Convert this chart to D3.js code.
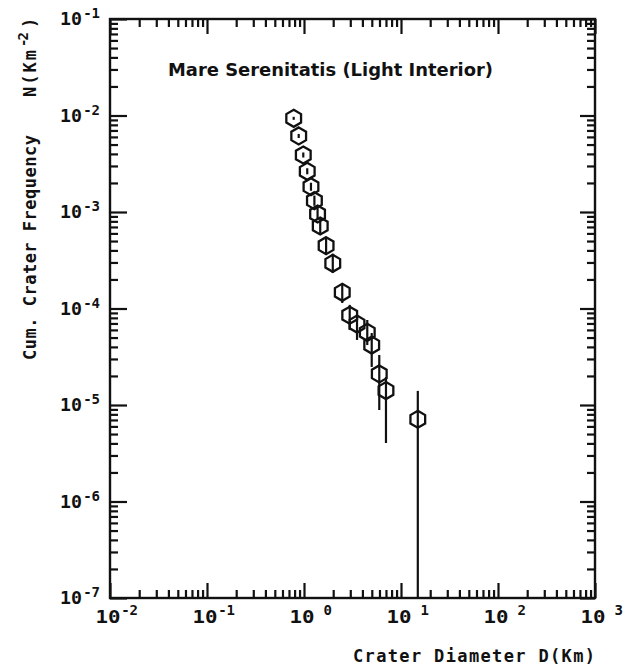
<!DOCTYPE html>
<html>
<head>
<meta charset="utf-8">
<script src="https://cdn.jsdelivr.net/npm/d3@7"></script>
<style>
  html, body { margin: 0; padding: 0; background: #fff; }
  svg { display: block; }
  .mono { font-family: "DejaVu Sans Mono", "Liberation Mono", monospace; font-weight: bold; fill: #111; }
</style>
</head>
<body>
<script>
// Cumulative crater frequency, Mare Serenitatis (light interior)
const diameters = [0.783, 0.882, 0.983, 1.08, 1.18, 1.28, 1.38, 1.47, 1.69, 1.98,
                   2.48, 2.96, 3.52, 4.49, 4.99, 5.97, 7.00, 14.9];
const frequencies = [9.35e-3, 6.14e-3, 3.90e-3, 2.64e-3, 1.83e-3, 1.31e-3, 9.53e-4, 7.16e-4, 4.48e-4, 2.94e-4,
                     1.47e-4, 8.51e-5, 6.90e-5, 5.66e-5, 4.18e-5, 2.10e-5, 1.41e-5, 7.11e-6];
const errUpper = [9.69e-3, 6.44e-3, 4.14e-3, 2.84e-3, 2.01e-3, 1.48e-3, 1.10e-3, 8.46e-4, 5.42e-4, 3.69e-4,
                  1.75e-4, 1.09e-4, 8.22e-5, 7.60e-5, 5.57e-5, 3.30e-5, 1.95e-5, 1.40e-5];
const errLower = [9.02e-3, 5.85e-3, 3.67e-3, 2.46e-3, 1.66e-3, 1.16e-3, 8.26e-4, 6.06e-4, 3.70e-4, 2.34e-4,
                  1.14e-4, 5.98e-5, 4.72e-5, 4.18e-5, 2.48e-5, 8.87e-6, 4.04e-6, 1e-7];

const xDecades = [-2, -1, 0, 1, 2, 3];
const yDecades = [-1, -2, -3, -4, -5, -6, -7];

const titleText = "Mare Serenitatis (Light Interior)";
const xTitle = "Crater Diameter D(Km)";
const yTitle = "Cum. Crater Frequency";

const W = 626, H = 669;
const svg = d3.select("body").append("svg").attr("width", W).attr("height", H);

const x = d3.scaleLog().domain([1e-2, 1e3]).range([110, 595]);
const y = d3.scaleLog().domain([1e-7, 1e-1]).range([598, 19]);

// tick positions: majors at each decade, minors at 2..9
function logTicks(lo, hi) {
  const major = [], minor = [];
  for (let e = lo; e <= hi; e++) {
    major.push(Math.pow(10, e));
    if (e < hi) for (let m = 2; m <= 9; m++) minor.push(m * Math.pow(10, e));
  }
  return { major, minor };
}
const xt = logTicks(-2, 3), yt = logTicks(-7, -1);

function styleAxis(g) {
  g.select(".domain").remove();
  g.selectAll(".tick line").attr("stroke", "#111").attr("stroke-width", 2.2);
  g.selectAll(".tick text").remove();
}

const axes = svg.append("g");
[["major", 15], ["minor", 8]].forEach(([k, len]) => {
  axes.append("g").attr("transform", `translate(0,${y.range()[0]})`)
    .call(d3.axisBottom(x).tickValues(xt[k]).tickSize(-len).tickFormat("")).call(styleAxis);
  axes.append("g").attr("transform", `translate(0,${y.range()[1]})`)
    .call(d3.axisTop(x).tickValues(xt[k]).tickSize(-len).tickFormat("")).call(styleAxis);
  axes.append("g").attr("transform", `translate(${x.range()[0]},0)`)
    .call(d3.axisLeft(y).tickValues(yt[k]).tickSize(-(k === "major" ? 17 : 8)).tickFormat("")).call(styleAxis);
  axes.append("g").attr("transform", `translate(${x.range()[1]},0)`)
    .call(d3.axisRight(y).tickValues(yt[k]).tickSize(-len).tickFormat("")).call(styleAxis);
});

// frame
svg.append("rect")
  .attr("x", x.range()[0]).attr("y", y.range()[1])
  .attr("width", x.range()[1] - x.range()[0]).attr("height", y.range()[0] - y.range()[1])
  .attr("fill", "none").attr("stroke", "#111").attr("stroke-width", 2.4);

// x tick labels
xDecades.forEach(e => {
  const px = x(Math.pow(10, e));
  svg.append("text").attr("class", "mono")
    .attr("x", px - 2).attr("y", 623).attr("text-anchor", "middle")
    .attr("font-size", 17).attr("textLength", 25).attr("lengthAdjust", "spacingAndGlyphs")
    .text("10");
  svg.append("text").attr("class", "mono")
    .attr("x", px + 28).attr("y", 615).attr("text-anchor", "end")
    .attr("font-size", 14)
    .text(e < 0 ? "-" + (-e) : String(e));
});

// y tick labels
yDecades.forEach(e => {
  const py = y(Math.pow(10, e));
  svg.append("text").attr("class", "mono")
    .attr("x", 60).attr("y", py + 6)
    .attr("font-size", 17).attr("textLength", 22).attr("lengthAdjust", "spacingAndGlyphs")
    .text("10");
  svg.append("text").attr("class", "mono")
    .attr("x", 100).attr("y", py - 1).attr("text-anchor", "end")
    .attr("font-size", 14)
    .text("-" + (-e));
});

// title inside the frame
svg.append("text")
  .attr("x", 168).attr("y", 76)
  .attr("font-family", "'DejaVu Sans', sans-serif").attr("font-weight", "bold")
  .attr("font-size", 18).attr("fill", "#111")
  .attr("textLength", 325).attr("lengthAdjust", "spacingAndGlyphs")
  .text(titleText);

// x axis title
svg.append("text").attr("class", "mono")
  .attr("x", 353).attr("y", 662).attr("font-size", 17)
  .attr("textLength", 242).attr("lengthAdjust", "spacing")
  .text(xTitle);

// y axis title (rotated)
const yg = svg.append("g").attr("transform", "translate(36,0) rotate(-90)");
yg.append("text").attr("class", "mono")
  .attr("x", -360).attr("y", 0).attr("font-size", 17)
  .attr("textLength", 225).attr("lengthAdjust", "spacing")
  .text(yTitle);
yg.append("text").attr("class", "mono")
  .attr("x", -97).attr("y", 0).attr("font-size", 17)
  .attr("textLength", 47).attr("lengthAdjust", "spacing")
  .text("N(Km");
yg.append("text").attr("class", "mono")
  .attr("x", -47).attr("y", -8).attr("font-size", 14)
  .attr("textLength", 15).attr("lengthAdjust", "spacing")
  .text("-2");
yg.append("text").attr("class", "mono")
  .attr("x", -28).attr("y", 0).attr("font-size", 17)
  .text(")");

// data: error bars and hexagon markers
const pts = diameters.map((d, i) => ({ d, n: frequencies[i], hi: errUpper[i], lo: errLower[i] }));
const plot = svg.append("g");
plot.selectAll("line.err").data(pts).join("line").attr("class", "err")
  .attr("x1", p => x(p.d)).attr("x2", p => x(p.d))
  .attr("y1", p => y(p.hi)).attr("y2", p => y(p.lo))
  .attr("stroke", "#111").attr("stroke-width", 2.2);

const r = 8.5;
const hex = d3.range(6).map(k => {
  const a = -Math.PI / 2 + k * Math.PI / 3;
  return [r * Math.cos(a), r * Math.sin(a)];
});
const hexPath = "M" + hex.map(p => p.join(",")).join("L") + "Z";
plot.selectAll("path.mk").data(pts).join("path").attr("class", "mk")
  .attr("d", hexPath)
  .attr("transform", p => `translate(${x(p.d)},${y(p.n)})`)
  .attr("fill", "none").attr("stroke", "#111").attr("stroke-width", 2.3);
</script>
</body>
</html>
